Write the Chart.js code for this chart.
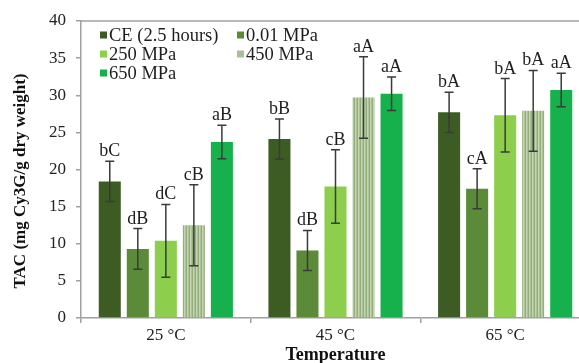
<!DOCTYPE html>
<html>
<head>
<meta charset="utf-8">
<script src="https://cdn.jsdelivr.net/npm/chart.js@4.4.1/dist/chart.umd.min.js"></script>
<style>
  html, body { margin: 0; padding: 0; background: #fff; overflow: hidden; }
  #chart { display: block; }
</style>
</head>
<body>
<canvas id="chart" width="590" height="363"></canvas>
<script>
const categories = ["25 °C", "45 °C", "65 °C"];
const seriesNames = ["CE (2.5 hours)", "0.01 MPa", "250 MPa", "450 MPa", "650 MPa"];

const ce = [18.4, 24.1, 27.7];
const mpa001 = [9.3, 9.1, 17.4];
const mpa250 = [10.4, 17.7, 27.3];
const mpa450 = [12.5, 29.7, 27.9];
const mpa650 = [23.7, 30.2, 30.7];

const ceErr = [2.7, 2.7, 2.7];
const mpa001Err = [2.75, 2.7, 2.7];
const mpa250Err = [4.9, 4.95, 4.95];
const mpa450Err = [5.45, 5.5, 5.45];
const mpa650Err = [2.25, 2.25, 2.25];

const ceLetters = ["bC", "bB", "bA"];
const mpa001Letters = ["dB", "dB", "cA"];
const mpa250Letters = ["dC", "cB", "bA"];
const mpa450Letters = ["cB", "aA", "bA"];
const mpa650Letters = ["aB", "aA", "aA"];

const yTicks = [0, 5, 10, 15, 20, 25, 30, 35, 40];
const yTitle = "TAC (mg Cy3G/g dry weight)";

const SERIF = "'Liberation Serif', 'DejaVu Serif', serif";
const AXIS = "#a0a0a0";

function el(id) {
  return document.getElementById(id);
}

// vertical stripes for the 450 MPa bars
function stripePattern() {
  const c = document.createElement("canvas");
  c.width = 3;
  c.height = 4;
  const g = c.getContext("2d");
  const cols = ["#93ad7c", "#c3d5b1", "#acc397"];
  cols.forEach((col, i) => {
    g.fillStyle = col;
    g.fillRect(i, 0, 1, 4);
  });
  return el("chart").getContext("2d").createPattern(c, "repeat");
}

const legendColors = ["#3d5c24", "#5b8a39", "#8dce4c", "#a9bf97", "#16b04c"];

const errorBars = {
  id: "errorBars",
  afterDatasetsDraw(chart) {
    const { ctx } = chart;
    const y = chart.scales.y;
    ctx.save();
    chart.data.datasets.forEach((ds, di) => {
      const meta = chart.getDatasetMeta(di);
      meta.data.forEach((bar, i) => {
        const v = ds.data[i];
        const e = ds.errors[i];
        const top = y.getPixelForValue(v + e);
        const bot = y.getPixelForValue(v - e);
        ctx.strokeStyle = "#3a3a3a";
        ctx.lineWidth = 1.5;
        ctx.beginPath();
        ctx.moveTo(bar.x, top);
        ctx.lineTo(bar.x, bot);
        ctx.moveTo(bar.x - 4.5, top);
        ctx.lineTo(bar.x + 4.5, top);
        ctx.moveTo(bar.x - 4.5, bot);
        ctx.lineTo(bar.x + 4.5, bot);
        ctx.stroke();
        ctx.fillStyle = "#1e1e1e";
        ctx.font = `18px ${SERIF}`;
        ctx.textAlign = "center";
        ctx.textBaseline = "alphabetic";
        ctx.fillText(ds.letters[i], bar.x, top - 5);
      });
    });
    ctx.restore();
  },
};

const frameAndLegend = {
  id: "frameAndLegend",
  afterDraw(chart) {
    const { ctx, chartArea } = chart;
    ctx.save();
    ctx.strokeStyle = AXIS;
    ctx.lineWidth = 1.5;
    ctx.beginPath();
    ctx.moveTo(chartArea.left, chartArea.top);
    ctx.lineTo(chartArea.right, chartArea.top);
    ctx.stroke();

    // y title sits a little below the plot centre in the original
    ctx.save();
    ctx.translate(21, 181);
    ctx.rotate(-Math.PI / 2);
    ctx.font = `bold 17px ${SERIF}`;
    ctx.fillStyle = "#111";
    ctx.textAlign = "center";
    ctx.textBaseline = "middle";
    ctx.fillText(yTitle, 0, 0);
    ctx.restore();

    // legend, two columns
    const colX = [100, 237];
    const rowY = [35, 54, 73];
    ctx.font = `18.5px ${SERIF}`;
    ctx.textBaseline = "middle";
    ctx.textAlign = "left";
    seriesNames.forEach((name, i) => {
      const x = colX[i % 2];
      const yy = rowY[Math.floor(i / 2)];
      ctx.fillStyle = legendColors[i];
      ctx.fillRect(x, yy - 3.5, 7, 7);
      ctx.fillStyle = "#1e1e1e";
      ctx.fillText(name, x + 9, yy + 1);
    });
    ctx.restore();
  },
};

const seriesValues = [ce, mpa001, mpa250, mpa450, mpa650];
const seriesErrors = [ceErr, mpa001Err, mpa250Err, mpa450Err, mpa650Err];
const seriesLetters = [ceLetters, mpa001Letters, mpa250Letters, mpa450Letters, mpa650Letters];
const barFills = ["#3d5c24", "#5b8a39", "#8dce4c", stripePattern(), "#16b04c"];

new Chart(el("chart"), {
  type: "bar",
  data: {
    labels: categories,
    datasets: seriesNames.map((name, i) => ({
      label: name,
      data: seriesValues[i],
      errors: seriesErrors[i],
      letters: seriesLetters[i],
      backgroundColor: barFills[i],
      borderWidth: 0,
      categoryPercentage: 0.826,
      barPercentage: 0.786,
    })),
  },
  options: {
    responsive: false,
    animation: false,
    events: [],
    layout: { padding: { top: 21, right: 0, bottom: 0, left: 0 } },
    plugins: { legend: { display: false }, tooltip: { enabled: false } },
    scales: {
      x: {
        afterFit: (s) => (s.height = 45),
        grid: { drawOnChartArea: false, tickLength: 5, color: AXIS, lineWidth: 1.5 },
        border: { color: AXIS, width: 1.5 },
        ticks: { color: "#222", padding: 2, font: { family: SERIF, size: 17 } },
        title: {
          display: true,
          text: "Temperature",
          color: "#111",
          padding: { top: 0, bottom: 0 },
          font: { family: SERIF, size: 18, weight: "bold", lineHeight: 0.9 },
        },
      },
      y: {
        min: 0,
        max: 40,
        afterFit: (s) => (s.width = 81),
        afterBuildTicks: (s) => (s.ticks = yTicks.map((v) => ({ value: v }))),
        grid: { drawOnChartArea: false, tickLength: 5, color: AXIS, lineWidth: 1.5 },
        border: { color: AXIS, width: 1.5 },
        ticks: { color: "#222", padding: 10, font: { family: SERIF, size: 17 } },
      },
    },
  },
  plugins: [errorBars, frameAndLegend],
});
</script>
</body>
</html>
